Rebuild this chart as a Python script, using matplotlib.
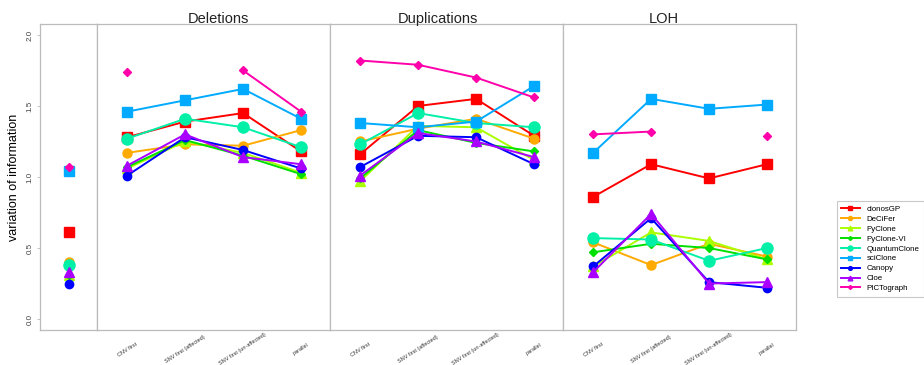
import numpy as np
import matplotlib
matplotlib.use("Agg")
import matplotlib.pyplot as plt

plt.rcParams['font.family'] = ['Liberation Sans', 'DejaVu Sans']

nan = np.nan

methods = ['clonosGP', 'DeCiFer', 'PyClone', 'PyClone-VI', 'QuantumClone',
           'sciClone', 'Canopy', 'Cloe', 'PICTograph']
colors = ['#FF0000', '#FFAA00', '#AAFF00', '#00E000', '#00F0A8',
          '#00AAFF', '#0000FF', '#AA00FF', '#FF00AA']
markers = ['s', 'o', '^', 'D', 'o', 's', 'o', '^', 'D']
msizes = [7, 6.5, 7.5, 4.5, 8, 7, 6, 7.5, 4.5]

scenarios = ['CNV first', 'SNV first (affected)', 'SNV first (un-affected)', 'parallel']
panels = ['Deletions', 'Duplications', 'LOH']

# single simulation without CNV (left strip)
base = [0.61, 0.40, 0.31, 0.31, 0.38, 1.04, 0.25, 0.33, 1.07]

deletions = {
    'clonosGP':     [1.28, 1.39, 1.45, 1.18],
    'DeCiFer':      [1.17, 1.23, 1.22, 1.33],
    'PyClone':      [1.06, 1.25, 1.17, 1.03],
    'PyClone-VI':   [1.07, 1.26, 1.15, 1.02],
    'QuantumClone': [1.27, 1.41, 1.35, 1.21],
    'sciClone':     [1.46, 1.54, 1.62, 1.41],
    'Canopy':       [1.01, 1.28, 1.19, 1.06],
    'Cloe':         [1.08, 1.30, 1.14, 1.09],
    'PICTograph':   [1.74, nan, 1.75, 1.46],
}
duplications = {
    'clonosGP':     [1.16, 1.50, 1.55, 1.29],
    'DeCiFer':      [1.25, 1.34, 1.41, 1.27],
    'PyClone':      [0.97, 1.36, 1.35, 1.12],
    'PyClone-VI':   [0.99, 1.33, 1.24, 1.18],
    'QuantumClone': [1.23, 1.45, 1.38, 1.35],
    'sciClone':     [1.38, 1.35, 1.39, 1.64],
    'Canopy':       [1.07, 1.29, 1.28, 1.09],
    'Cloe':         [1.01, 1.31, 1.25, 1.14],
    'PICTograph':   [1.82, 1.79, 1.70, 1.56],
}
loh = {
    'clonosGP':     [0.86, 1.09, 0.99, 1.09],
    'DeCiFer':      [0.54, 0.38, 0.53, 0.44],
    'PyClone':      [0.37, 0.61, 0.55, 0.42],
    'PyClone-VI':   [0.47, 0.53, 0.50, 0.42],
    'QuantumClone': [0.57, 0.56, 0.41, 0.50],
    'sciClone':     [1.17, 1.55, 1.48, 1.51],
    'Canopy':       [0.37, 0.71, 0.26, 0.22],
    'Cloe':         [0.33, 0.74, 0.25, 0.26],
    'PICTograph':   [1.30, 1.32, nan, 1.29],
}
panel_data = [deletions, duplications, loh]

W, H = 924, 365
fig = plt.figure(figsize=(W / 100, H / 100), dpi=100)

def px_axes(x0, x1, y0=24, y1=330):
    return fig.add_axes([x0 / W, (H - y1) / H, (x1 - x0) / W, (y1 - y0) / H])

grey = '#BBBBBB'
ylim = (-0.077, 2.077)

def style(ax):
    ax.set_ylim(*ylim)
    for s in ax.spines.values():
        s.set_color(grey)
        s.set_linewidth(0.9)

# left strip
ax0 = px_axes(40, 97)
style(ax0)
for i, m in enumerate(methods):
    ax0.plot([0], [base[i]], marker=markers[i], color=colors[i],
             markersize=msizes[i], linestyle='none')
ax0.set_xlim(-0.5, 0.5)
ax0.set_xticks([])
ax0.set_yticks([0.0, 0.5, 1.0, 1.5, 2.0])
ax0.set_yticklabels(['0.0', '0.5', '1.0', '1.5', '2.0'], rotation=90,
                    va='center', fontsize=5.8, color='#444444')
ax0.tick_params(axis='y', length=2.5, width=0.6, color=grey, pad=2)
ax0.set_ylabel('variation of information', fontsize=9, labelpad=5)

edges = [97, 330, 563, 796]
title_x = [218, 438, 664]
handles = []
for p in range(3):
    ax = px_axes(edges[p], edges[p + 1])
    style(ax)
    x = np.arange(len(scenarios))
    data = panel_data[p]
    for i, m in enumerate(methods):
        h, = ax.plot(x, data[m], marker=markers[i], color=colors[i],
                     markersize=msizes[i], linewidth=1.4, label=m)
        if p == 0:
            handles.append(h)
    ax.set_xlim(-0.52, 3.5)
    ax.set_yticks([])
    ax.set_xticks(x)
    ax.set_xticklabels(scenarios, rotation=33, ha='center', va='center',
                       fontsize=4, color='#333333')
    ax.tick_params(axis='x', length=0, pad=14)
    fig.text(title_x[p] / W, 1 - 19 / H, panels[p], ha='center', va='center',
             fontsize=10.5, color='#222222')

leg = fig.legend(handles=handles, loc='upper left',
                 bbox_to_anchor=(833 / W, 1 - 197 / H), fontsize=5.7,
                 frameon=True, fancybox=False, edgecolor=grey,
                 handlelength=2.3, labelspacing=0.3, borderpad=0.55,
                 handletextpad=0.9, markerscale=0.45)
leg.get_frame().set_linewidth(0.8)

fig.savefig('out.png', dpi=100)
